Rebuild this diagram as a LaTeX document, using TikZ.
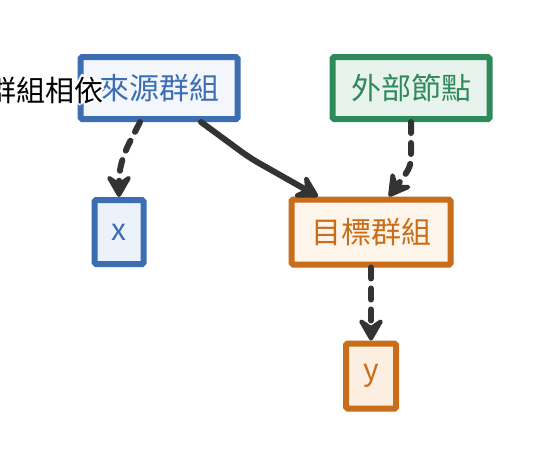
\documentclass[tikz,border=0pt]{standalone}
\usepackage{fontspec}
\setmainfont{Noto Sans CJK TC}
\usetikzlibrary{arrows.meta,calc}
\definecolor{bluec}{HTML}{3D6DB3}
\definecolor{bluefill}{HTML}{F3F7FC}
\definecolor{bluefillb}{HTML}{ECF2FA}
\definecolor{greenc}{HTML}{2F8A5A}
\definecolor{greenfill}{HTML}{E9F3EE}
\definecolor{orangec}{HTML}{C86E1A}
\definecolor{orangefill}{HTML}{FDF4EA}
\definecolor{orangefillb}{HTML}{FCEFE2}
\definecolor{edgec}{HTML}{333333}
\tikzset{
  box/.style={draw, rectangle, rounded corners=1.5pt, line width=6pt, inner sep=0pt, font=\fontsize{30}{33}\selectfont},
  bluebox/.style={box, draw=bluec, fill=bluefill, text=bluec},
  greenbox/.style={box, draw=greenc, fill=greenfill, text=greenc},
  orangebox/.style={box, draw=orangec, fill=orangefill, text=orangec},
  conn/.style={draw=edgec, line width=6pt, line cap=round, line join=round,
    -{Stealth[length=28pt,width=32pt,inset=11pt,round]}},
  dashconn/.style={conn, dash pattern=on 11pt off 10pt},
  lbl/.style={font=\fontsize{29}{32}\selectfont, inner sep=0pt, anchor=east},
}
\begin{document}
\begin{tikzpicture}[x=1pt,y=-1pt]
\useasboundingbox (0,0) rectangle (548,464);
\fill[white] (0,0) rectangle (548,464);
\node[bluebox, minimum width=157pt, minimum height=62pt] (src) at (159,88) {來源群組};
\node[greenbox, minimum width=157pt, minimum height=62pt] (ext) at (411,88) {外部節點};
\node[bluebox, fill=bluefillb, minimum width=49pt, minimum height=64pt] (x) at (119,232) {x};
\node[orangebox, minimum width=159pt, minimum height=65pt] (tgt) at (371,232) {目標群組};
\node[orangebox, fill=orangefillb, minimum width=50pt, minimum height=65pt] (y) at (371,376) {y};
% edges
\draw[dashconn] ([xshift=-19pt]src.south) .. controls ([xshift=-31pt,yshift=-24pt]src.south) and ([yshift=38pt]x.north) .. (x.north);
\draw[conn, rounded corners=10pt] ([xshift=42pt]src.south) -- ([xshift=91pt,yshift=-36pt]src.south) -- ([xshift=-53pt]tgt.north);
\draw[dashconn] (ext.south) -- ([yshift=-28pt]ext.south) .. controls ([yshift=-45pt]ext.south) .. ([xshift=18pt]tgt.north);
\draw[dashconn] (tgt.south) -- (y.north);
% label with white halo
\foreach \dx/\dy in {2.5/0,-2.5/0,0/2.5,0/-2.5,1.8/1.8,-1.8/1.8,1.8/-1.8,-1.8/-1.8}
  \node[lbl, text=white] at (104+\dx,90+\dy) {群組相依};
\node[lbl, text=black] (lab) at (104,90) {群組相依};
\end{tikzpicture}
\end{document}
